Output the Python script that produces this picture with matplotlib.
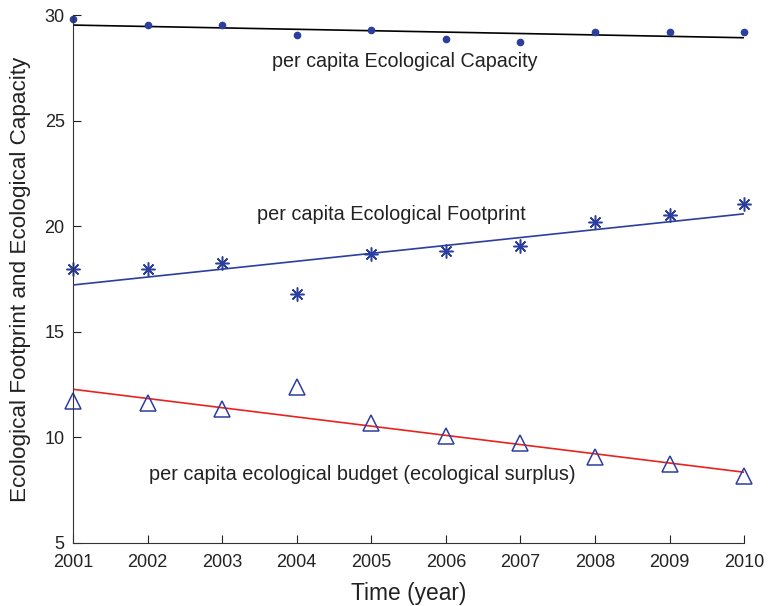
import matplotlib
matplotlib.use('Agg')
from matplotlib import pyplot as plt

plt.rcParams['font.family'] = ['Liberation Sans', 'DejaVu Sans']

years = [2001, 2002, 2003, 2004, 2005, 2006, 2007, 2008, 2009, 2010]
capacity = [29.81, 29.53, 29.53, 29.08, 29.29, 28.85, 28.72, 29.22, 29.22, 29.22]
footprint = [18.0, 17.96, 18.24, 16.78, 18.68, 18.83, 19.05, 20.21, 20.52, 21.04]
budget = [11.74, 11.61, 11.33, 12.40, 10.67, 10.07, 9.72, 9.06, 8.74, 8.17]

# fitted trend lines, end points
fit_years = [2001, 2010]
capacity_fit = [29.53, 28.93]
footprint_fit = [17.22, 20.59]
budget_fit = [12.28, 8.35]

azul = '#2c3e9e'
texto = '#222222'

fig = plt.figure(figsize=(7.68, 6.06), dpi=100)
ax = fig.add_axes([0.095, 0.104, 0.874, 0.871])

ax.plot(fit_years, capacity_fit, color='black', linewidth=1.2)
ax.plot(fit_years, footprint_fit, color=azul, linewidth=1.2)
ax.plot(fit_years, budget_fit, color='#e8231f', linewidth=1.2)

ax.plot(years, capacity, 'o', color=azul, markersize=4.5, clip_on=False)
ax.plot(years, footprint, linestyle='none', marker=(8, 2, 0), color=azul,
        markersize=10, markeredgewidth=1.1, clip_on=False)
ax.plot(years, budget, '^', markerfacecolor='none', markeredgecolor=azul,
        markersize=12, markeredgewidth=1.1, clip_on=False)

ax.text(2005.45, 27.8, 'per capita Ecological Capacity', fontsize=14.2,
        ha='center', va='center', color=texto)
ax.text(2003.47, 20.55, 'per capita Ecological Footprint', fontsize=14.3,
        va='center', color=texto)
ax.text(2002.02, 8.24, 'per capita ecological budget (ecological surplus)', fontsize=14.3,
        va='center', color=texto)

ax.set_xlim(2001, 2010)
ax.set_ylim(5, 30)
ax.set_xticks(years)
ax.set_yticks([5, 10, 15, 20, 25, 30])
ax.spines['top'].set_visible(False)
ax.spines['right'].set_visible(False)
ax.spines['left'].set_color('#333333')
ax.spines['bottom'].set_color('#333333')
ax.tick_params(direction='in', length=6, labelsize=13, colors=texto)
ax.tick_params(axis='y', pad=6)
ax.tick_params(axis='x', pad=8)
ax.set_xlabel('Time (year)', fontsize=16.4, color=texto, labelpad=8)
ax.set_ylabel('Ecological Footprint and Ecological Capacity', fontsize=16.2,
              color=texto, labelpad=10)

plt.savefig('out.png', dpi=100)
